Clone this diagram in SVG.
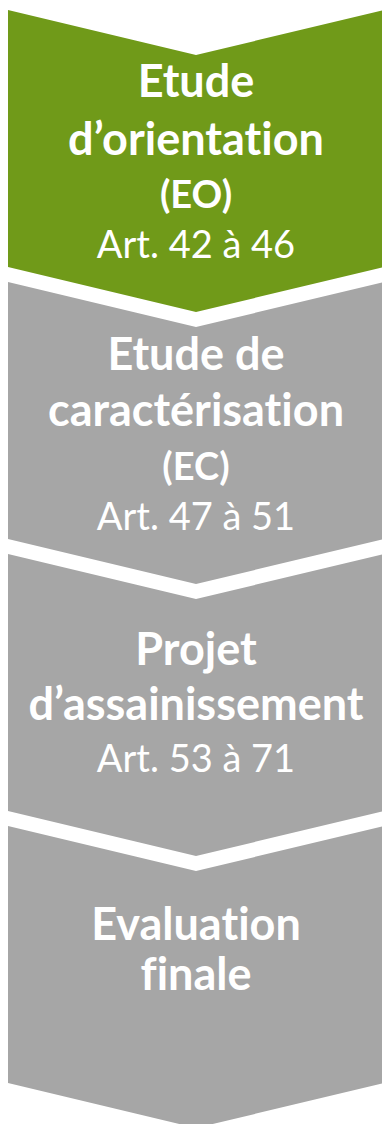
<svg xmlns="http://www.w3.org/2000/svg" width="382" height="1124" viewBox="0 0 382 1124">
  <style>
    .step-eo { fill: #709A19; }
    .step { fill: #A6A6A6; }
    text { fill: #FFFFFF; font-family: Lato, "Liberation Sans", sans-serif; text-anchor: middle; font-variant-ligatures: none; font-feature-settings: "liga" 0, "clig" 0; }
    .title { font-size: 45px; font-weight: bold; }
    .code { font-size: 38px; font-weight: bold; }
    .art { font-size: 38px; font-weight: normal; }
  </style>

  <!-- Step 1: orientation study -->
  <g id="etude-orientation">
    <polygon class="step-eo" points="8,10 196,55 384,10 384,267 196,312 8,267"/>
    <text class="title" x="196" y="97">Etude</text>
    <text class="title" x="196" y="155">d’orientation</text>
    <text class="code" x="196" y="208">(EO)</text>
    <text class="art" x="196" y="258">Art. 42 à 46</text>
  </g>

  <!-- Step 2: characterisation study -->
  <g id="etude-caracterisation">
    <polygon class="step" points="8,282 196,327 384,282 384,539 196,584 8,539"/>
    <text class="title" x="196" y="370">Etude de</text>
    <text class="title" x="196" y="426">caractérisation</text>
    <text class="code" x="196" y="480">(EC)</text>
    <text class="art" x="196" y="530">Art. 47 à 51</text>
  </g>

  <!-- Step 3: remediation project -->
  <g id="projet-assainissement">
    <polygon class="step" points="8,554 196,599 384,554 384,811 196,856 8,811"/>
    <text class="title" x="196" y="665">Projet</text>
    <text class="title" x="196" y="720">d’assainissement</text>
    <text class="art" x="196" y="772">Art. 53 à 71</text>
  </g>

  <!-- Step 4: final evaluation -->
  <g id="evaluation-finale">
    <polygon class="step" points="8,826 196,871 384,826 384,1083 196,1128 8,1083"/>
    <text class="title" x="196" y="940">Evaluation</text>
    <text class="title" x="196" y="990">finale</text>
  </g>

  <!-- The chevrons abut each other; there are no separate connector lines -->
  <g id="connectors"/>
</svg>
